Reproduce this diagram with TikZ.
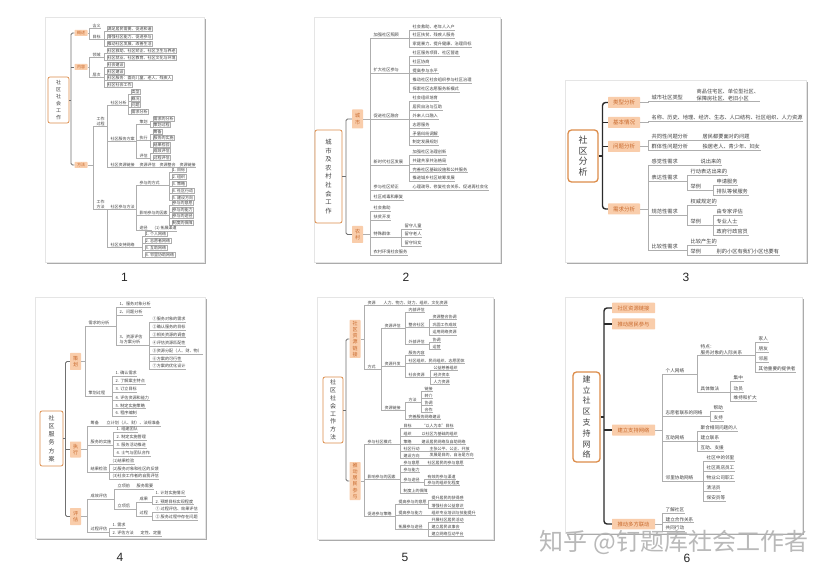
\documentclass[tikz,border=0pt]{standalone}
\usepackage{fontspec}
\setmainfont{Noto Sans CJK SC}
\newfontfamily\capf{Liberation Sans}
\usetikzlibrary{shadows}
\definecolor{obfill}{HTML}{F9CDAB}
\definecolor{obtext}{HTML}{C8682B}
\definecolor{rootline}{HTML}{DC8D4B}
\definecolor{ln}{HTML}{AEAEAE}
\definecolor{txt}{HTML}{404040}
\definecolor{spg}{HTML}{707070}
\definecolor{spk}{HTML}{2B2B2B}
\newcommand\fsz[1]{\fontsize{#1}{#1}\selectfont}
\def\lfs{4}\def\lfb{5}
\newcommand\Lf[5][]{\node[leaf,#1] (#2) at (#3,#4) {#5};\draw[ul] (#2.south west) -- (#2.south east);}
\newcommand\Cn[2]{\foreach \kid in {#2}{\draw[conn] (\kid.south west) -- ++(-2.5,0) |- (#1.south east);}}
\newcommand\Cb[2]{\foreach \kid in {#2}{\draw[conn] (\kid.south west) -- ++(-2.5,0) |- (#1.east);}}
\tikzset{
  leaf/.style={anchor=west, font=\fontsize{\lfs}{\lfb}\selectfont, text=txt, inner xsep=0.5pt, inner ysep=0.6pt, align=left},
  bx/.style={draw=ln, line width=0.3pt},
  ul/.style={draw=ln, line width=0.35pt},
  conn/.style={draw=ln, line width=0.35pt},
  obox/.style={fill=obfill, text=obtext, inner sep=0.8pt, rounded corners=0.6pt, align=center},
  rootbox/.style={draw=rootline, fill=white, line width=0.8pt, rounded corners=2pt, text=txt, align=center, inner sep=1pt},
  card/.style={fill=white, draw=black!10, line width=0.3pt, drop shadow={shadow xshift=1.6pt, shadow yshift=-1.6pt, opacity=0.55, fill=black!60}},
  sgl/.style={draw=spg, line width=0.9pt},
  skl/.style={draw=spk, line width=1.4pt},
  capt/.style={font=\capf\fontsize{12}{12}\selectfont, text=black!85},
  wm/.style={font=\fontsize{24}{24}\selectfont},
}
\begin{document}
\begin{tikzpicture}[x=1pt,y=-1pt]
\useasboundingbox (0,0) rectangle (833,577);
\fill[white] (0,0) rectangle (833,577);

% ================= Panel 1 =================
\def\lfs{4}\def\lfb{5}
\draw[card] (45,17) rectangle (204,262);
\node[rootbox, line width=0.7pt, minimum width=21pt, minimum height=46pt, font=\fontsize{5}{7}\selectfont] (r1) at (58.5,100) {社\\区\\社\\会\\工\\作};
\node[obox, font=\fsz{4}, minimum width=13pt, minimum height=6pt] (a1) at (81,33) {概述};
\node[obox, font=\fsz{4}, minimum width=13pt, minimum height=6pt] (b1) at (81,67) {内容};
\node[obox, font=\fsz{4}, minimum width=13pt, minimum height=6pt] (c1) at (81,165) {方法};
\coordinate (s1) at (71,100);
\draw[sgl] (r1.east) -- (s1);
\draw[sgl, rounded corners=1.5pt] (a1.west) -| (s1) |- (c1.west);
\draw[sgl] (s1 |- b1.west) -- (b1.west);
\Lf{a11}{92}{26}{含义}
\Lf{a12}{92}{37}{目标}
\Cb{a1}{a11,a12}
\Lf[bx]{a121}{107}{29}{满足居民需要、促进和谐}
\Lf[bx]{a122}{107}{36.5}{增强社区能力、促进参与}
\Lf[bx]{a123}{107}{44}{推动社区发展、改善生活}
\Cn{a12}{a121,a122,a123}
\Lf{b11}{92}{55}{领域}
\Lf{b12}{92}{75}{层次}
\Cb{b1}{b11,b12}
\Lf[bx]{b111}{107}{51}{社区救助、社区矫正、社区卫生与养老}
\Lf[bx]{b112}{107}{58}{社区就业、社区教育、社区文化与环境}
\Cn{b11}{b111,b112}
\Lf[bx]{b121}{107}{65}{社会建设}
\Lf[bx]{b122}{107}{71.5}{社区建设}
\Lf[bx]{b123}{107}{78}{社区服务：面向儿童、老人、残疾人}
\Lf[bx]{b124}{107}{84.5}{社区社会工作}
\Cn{b12}{b121,b122,b123,b124}
\Lf{c11}{96}{121}{工作\\过程}
\Lf{c12}{96}{204}{工作\\方法}
\Cb{c1}{c11,c12}
\Lf{c111}{110}{103}{社区分析}
\Lf{c112}{110}{139}{社区服务方案}
\Lf{c113}{110}{165}{社区资源链接}
\Cn{c11}{c111,c112,c113}
\Lf[bx]{c1111}{131}{92}{类型}
\Lf[bx]{c1112}{131}{98.5}{概况}
\Lf[bx]{c1113}{131}{105}{问题}
\Lf[bx]{c1114}{131}{111.5}{需求分析}
\Cn{c111}{c1111,c1112,c1113,c1114}
\Lf{c1121}{139}{122}{策划}
\Lf{c1122}{139}{138}{执行}
\Lf{c1123}{139}{156}{评估}
\Cn{c112}{c1121,c1122,c1123}
\Lf[bx]{p11}{153}{118.5}{需求的分析}
\Lf[bx]{p12}{153}{125}{策划过程}
\Cn{c1121}{p11,p12}
\Lf[bx]{p13}{153}{131.5}{筹备}
\Lf[bx]{p14}{153}{138}{服务的实施}
\Lf[bx]{p15}{153}{144.5}{结果检验}
\Cn{c1122}{p13,p14,p15}
\Lf[bx]{p16}{153}{151}{成效评估}
\Lf[bx]{p17}{153}{157.5}{过程评估}
\Cn{c1123}{p16,p17}
\Lf{p18}{139}{165}{资源评估}
\Lf{p19}{159}{165}{资源整合}
\Lf{p20}{179}{165}{资源链接}
\Cn{c113}{p18}\Cn{p18}{p19}\Cn{p19}{p20}
\Lf{c121}{110}{207}{社区参与方法}
\Lf{c122}{110}{245}{社区支持网络}
\Cn{c12}{c121,c122}
\Lf{c1211}{139}{183}{参与的方式}
\Lf{c1212}{139}{213}{影响参与的因素}
\Lf{c1213}{139}{228}{途径}
\Cn{c121}{c1211,c1212,c1213}
\Lf[bx]{d1}{172}{170}{1. 目标}
\Lf[bx]{d2}{172}{177}{2. 组织}
\Lf[bx]{d3}{172}{184}{3. 策略}
\Lf[bx]{d4}{172}{191}{4. 社区行动}
\Lf[bx]{d5}{172}{198}{5. 建设方向}
\Cn{c1211}{d1,d2,d3,d4,d5}
\Lf[bx]{d6}{172}{203}{参与的意愿}
\Lf[bx]{d7}{172}{209.5}{参与的能力}
\Lf[bx]{d8}{172}{216}{参与的途径}
\Lf[bx]{d9}{172}{222.5}{制度的保障}
\Cn{c1212}{d6,d7,d8,d9}
\Lf{d10}{154}{228}{(1) 拓展渠道}
\Cn{c1213}{d10}
\Lf[bx]{d11}{145}{234}{1. 个人网络}
\Lf[bx]{d12}{145}{241}{2. 志愿者网络}
\Lf[bx]{d13}{145}{248}{3. 互助网络}
\Lf[bx]{d14}{145}{255}{4. 邻里协助网络}
\Cn{c122}{d11,d12,d13,d14}

% ================= Panel 2 =================
\def\lfs{4.2}\def\lfb{5.2}
\draw[card] (314,17) rectangle (500,262);
\node[rootbox, minimum width=27pt, minimum height=93pt, font=\fontsize{6.3}{8.6}\selectfont] (r2) at (328.5,176.5) {城\\市\\及\\农\\村\\社\\会\\工\\作};
\node[obox, font=\fontsize{5}{6.5}\selectfont, minimum width=11pt, minimum height=19pt] (b21) at (357.5,119) {城\\市};
\node[obox, font=\fontsize{5}{6.5}\selectfont, minimum width=11pt, minimum height=17pt] (b22) at (357.5,234.5) {农\\村};
\coordinate (s2) at (346,176.5);
\draw[sgl] (r2.east) -- (s2);
\draw[sgl, rounded corners=1.5pt] (b21.west) -| (s2) |- (b22.west);
\Lf{u1}{373}{35}{加强社区照顾}
\Lf{u2}{373}{70}{扩大社区参与}
\Lf{u3}{373}{116}{促进社区融合}
\Lf{u4}{373}{162}{新时代社区发展}
\Lf{u5}{373}{187}{参与社区矫正}
\Lf{u6}{373}{197}{社区戒毒和康复}
\Cb{b21}{u1,u2,u3,u4,u5,u6}
\Lf{u11}{412}{27}{社会救助、老年人入户}
\Lf{u12}{412}{35}{社区扶贫、残疾人服务}
\Lf{u13}{412}{44}{家庭暴力、提升健康、治理目标}
\Cn{u1}{u11,u12,u13}
\Lf{u21}{412}{53}{社区服务项目、社区营造}
\Lf{u22}{412}{62}{社区协商}
\Lf{u23}{412}{70.5}{提高参与水平}
\Lf{u24}{412}{80}{推动社区社会组织参与社区治理}
\Lf{u25}{412}{89}{探索社区志愿服务新模式}
\Cn{u2}{u21,u22,u23,u24,u25}
\Lf{u31}{412}{98}{社会组织培育}
\Lf{u32}{412}{107}{居民自治与互助}
\Lf{u33}{412}{116}{外来人口融入}
\Lf{u34}{412}{125}{志愿服务}
\Lf{u35}{412}{133.5}{矛盾纠纷调解}
\Lf{u36}{412}{142}{制定发展规划}
\Cn{u3}{u31,u32,u33,u34,u35,u36}
\Lf{u41}{412}{152}{加强社区治理创新}
\Lf{u42}{412}{161}{共建共享共治格局}
\Lf{u43}{412}{169.5}{完善社区基础设施和公共服务}
\Lf{u44}{412}{178}{推进城乡社区统筹发展}
\Cn{u4}{u41,u42,u43,u44}
\Lf{u51}{412}{187}{心理疏导、修复社会关系、促进再社会化}
\Cn{u5}{u51}
\Lf{v1}{373}{208}{社会救助}
\Lf{v2}{373}{217}{扶贫开发}
\Lf{v3}{373}{234}{特殊群体}
\Lf{v4}{373}{252}{农村环境社会服务}
\Cb{b22}{v1,v2,v3,v4}
\Lf{v31}{404}{226}{留守儿童}
\Lf{v32}{404}{234}{留守老人}
\Lf{v33}{404}{243}{留守妇女}
\Cn{v3}{v31,v32,v33}

% ================= Panel 3 =================
\def\lfs{5.2}\def\lfb{6.6}
\draw[card] (565,80) rectangle (806,262);
\node[rootbox, line width=1.3pt, rounded corners=3.5pt, minimum width=30pt, minimum height=52pt, font=\fontsize{9}{10.8}\selectfont] (r3) at (583,156) {社\\区\\分\\析};
\node[obox, font=\fsz{5.5}, minimum width=32pt, minimum height=11pt] (t1) at (624,102.5) {类型分析};
\node[obox, font=\fsz{5.5}, minimum width=32pt, minimum height=11pt] (t2) at (624,122.5) {基本情况};
\node[obox, font=\fsz{5.5}, minimum width=32pt, minimum height=11pt] (t3) at (624,146.5) {问题分析};
\node[obox, font=\fsz{5.5}, minimum width=32pt, minimum height=11pt] (t4) at (624,209) {需求分析};
\coordinate (s3) at (602.5,156);
\draw[skl] (r3.east) -- (s3);
\draw[skl, rounded corners=3pt] (t1.west) -| (s3) |- (t4.west);
\draw[skl] (s3 |- t2.west) -- (t2.west);
\draw[skl] (s3 |- t3.west) -- (t3.west);
\Lf{t11}{651}{98}{城市社区类型}
\Cb{t1}{t11}
\Lf{t12}{696}{95}{商品住宅区、单位型社区、\\保障房社区、老旧小区}
\Cn{t11}{t12}
\Lf{t21}{651}{118}{名称、历史、地理、经济、生态、人口结构、社区组织、人力资源}
\Cb{t2}{t21}
\Lf{t31}{651}{137}{共同性问题分析}
\Lf{t32}{651}{147}{群体性问题分析}
\Cb{t3}{t31,t32}
\Lf{t311}{702}{137}{居民都要面对的问题}
\Lf{t321}{702}{147}{独居老人、青少年、妇女}
\Cn{t31}{t311}\Cn{t32}{t321}
\Lf{t41}{651}{162}{感觉性需求}
\Lf{t42}{651}{178}{表达性需求}
\Lf{t43}{651}{212}{规范性需求}
\Lf{t44}{651}{247}{比较性需求}
\Cb{t4}{t41,t42,t43,t44}
\Lf{t411}{700}{162}{说出来的}
\Cn{t41}{t411}
\Lf{t421}{690}{172}{行动表达出来的}
\Lf{t422}{690}{187}{举例}
\Cn{t42}{t421,t422}
\Lf{t4221}{716}{182}{申请服务}
\Lf{t4222}{716}{192}{排队等候服务}
\Cn{t422}{t4221,t4222}
\Lf{t431}{690}{202}{权威规定的}
\Lf{t432}{690}{222}{举例}
\Cn{t43}{t431,t432}
\Lf{t4321}{716}{212}{由专家评估}
\Lf{t4322}{716}{222}{专业人士}
\Lf{t4323}{716}{232}{政府行政官员}
\Cn{t432}{t4321,t4322,t4323}
\Lf{t441}{690}{242}{比较产生的}
\Lf{t442}{690}{252}{举例}
\Cn{t44}{t441,t442}
\Lf{t4421}{716}{252}{别的小区有我们小区也要有}
\Cn{t442}{t4421}

% ================= Panel 4 =================
\def\lfs{4.1}\def\lfb{5}
\draw[card] (35,297) rectangle (205,538);
\node[rootbox, minimum width=23pt, minimum height=55pt, font=\fontsize{6}{8.3}\selectfont] (r4) at (51.5,438.5) {社\\区\\服\\务\\方\\案};
\node[obox, font=\fontsize{5}{6.5}\selectfont, minimum width=11pt, minimum height=17pt] (pa) at (75.5,361.5) {策\\划};
\node[obox, font=\fontsize{5}{6.5}\selectfont, minimum width=11pt, minimum height=16pt] (pb) at (75.5,449.5) {执\\行};
\node[obox, font=\fontsize{5}{6.5}\selectfont, minimum width=11pt, minimum height=17pt] (pc) at (75.5,516.5) {评\\估};
\coordinate (s4) at (65.5,438.5);
\draw[sgl] (r4.east) -- (s4);
\draw[sgl, rounded corners=1.5pt] (pa.west) -| (s4) |- (pc.west);
\draw[sgl] (s4 |- pb.west) -- (pb.west);
\Lf{q1}{88}{323}{需求的分析}
\Lf{q2}{88}{393}{策划过程}
\Cb{pa}{q1,q2}
\Lf{q11}{119}{304}{1、服务对象分析}
\Lf{q12}{119}{312}{2、问题分析}
\Lf{q13}{119}{339.5}{3、资源评估\\与方案分析}
\Cn{q1}{q11,q12,q13}
\Lf{q131}{152}{319}{①服务对象的需求}
\Lf{q132}{152}{327}{②确认服务的目标}
\Lf{q133}{152}{334.5}{③相关资源的调查}
\Lf{q134}{152}{343}{④评估资源匹配性}
\Lf{q135}{152}{351}{⑤资源分配（人、财、物）}
\Lf{q136}{152}{358.5}{⑥方案的可行性}
\Lf{q137}{152}{366}{⑦方案的优化设计}
\Cn{q13}{q131,q132,q133,q134,q135,q136,q137}
\Lf{q21}{115}{373}{1. 确认需求}
\Lf{q22}{115}{381}{2. 了解案主特点}
\Lf{q23}{115}{389}{3. 订立目标}
\Lf{q24}{115}{397.5}{4. 评估资源和能力}
\Lf{q25}{115}{405.5}{5. 制定实施策略}
\Lf{q26}{115}{413}{6. 程序编制}
\Cn{q2}{q21,q22,q23,q24,q25,q26}
\Lf{q3}{90}{423}{筹备}
\Lf{q4}{90}{442}{服务的实施}
\Lf{q5}{90}{469}{结果检验}
\Cb{pb}{q3,q4,q5}
\Lf{q31}{106}{423}{立计划（人、财）、法规准备}
\Cn{q3}{q31}
\Lf{q41}{116}{429}{1. 组建团队}
\Lf{q42}{116}{437}{2. 制定实施管理}
\Lf{q43}{116}{445}{3. 服务活动推进}
\Lf{q44}{116}{453}{4. 士气与团队合作}
\Cn{q4}{q41,q42,q43,q44}
\Lf{q51}{112}{461.5}{(1)结果检验}
\Lf{q52}{112}{469}{(2)服务对象和社区的反馈}
\Lf{q53}{112}{476.5}{(3)社会工作者的自我评估}
\Cn{q5}{q51,q52,q53}
\Lf{q6}{90}{496}{成效评估}
\Lf{q7}{90}{529}{过程评估}
\Cb{pc}{q6,q7}
\Lf{q61}{117}{486}{立项前}
\Lf{q62}{117}{506}{立项后}
\Cn{q6}{q61,q62}
\Lf{q611}{136}{486}{服务需要}
\Cn{q61}{q611}
\Lf{q621}{139}{499}{成果}
\Lf{q622}{139}{513}{过程}
\Cn{q62}{q621,q622}
\Lf{q6211}{155}{493}{1. 计划实施情况}
\Lf{q6212}{155}{501.5}{2. 预期目标实现程度}
\Cn{q621}{q6211,q6212}
\Lf{q6221}{155}{509}{① 过程评估、效果评估}
\Lf{q6222}{155}{517}{② 服务过程中存在问题}
\Cn{q622}{q6221,q6222}
\Lf{q71}{112}{525}{1. 需求}
\Lf{q72}{112}{533}{2. 评估方法}
\Cn{q7}{q71,q72}
\Lf{q721}{140}{533}{定性、定量}
\Cn{q72}{q721}

% ================= Panel 5 =================
\def\lfs{4}\def\lfb{5}
\draw[card] (317,297) rectangle (493,539);
\node[rootbox, minimum width=20pt, minimum height=66pt, font=\fontsize{6}{7.8}\selectfont] (r5) at (333,410) {社\\区\\社\\会\\工\\作\\方\\法};
\node[obox, font=\fontsize{5}{6.1}\selectfont, minimum width=11pt, minimum height=38pt] (w1) at (355,339) {社\\区\\资\\源\\链\\接};
\node[obox, font=\fontsize{5}{6.1}\selectfont, minimum width=11pt, minimum height=38pt] (w2) at (355,481) {推\\动\\居\\民\\参\\与};
\coordinate (s5) at (346,410);
\draw[sgl] (r5.east) -- (s5);
\draw[sgl, rounded corners=1.5pt] (w1.west) -| (s5) |- (w2.west);
\Lf{x1}{367}{303}{资源}
\Lf{x2}{367}{367}{方式}
\Cb{w1}{x1,x2}
\Lf{x11}{383}{303}{人力、物力、财力、组织、文化资源}
\Cn{x1}{x11}
\Lf{y1}{384}{326}{资源评估}
\Lf{y2}{384}{364}{资源开发}
\Lf{y3}{384}{408}{资源链接}
\Cn{x2}{y1,y2,y3}
\Lf{y11}{408}{310}{内部评估}
\Lf{y12}{408}{324.5}{整合社区}
\Lf{y13}{408}{342}{外部评估}
\Cn{y1}{y11,y12,y13}
\Lf{y121}{432}{317}{资源整合协调}
\Lf{y122}{432}{324.5}{巩固工作成效}
\Lf{y123}{432}{332}{运用网络资源}
\Cn{y12}{y121,y122,y123}
\Lf{y131}{432}{339.5}{协调}
\Lf{y132}{432}{347}{运营}
\Cn{y13}{y131,y132}
\Lf{y21}{408}{353}{服务内容}
\Lf{y22}{408}{361}{社区组织、民间组织、志愿团体}
\Lf{y23}{408}{375}{社会资源}
\Cn{y2}{y21,y22,y23}
\Lf{y231}{433}{368}{公益慈善组织}
\Lf{y232}{433}{375}{经济资本}
\Lf{y233}{433}{382}{人力资源}
\Cn{y23}{y231,y232,y233}
\Lf{y31}{408}{400}{方法}
\Lf{y32}{408}{417}{完善服务网络建设}
\Cn{y3}{y31,y32}
\Lf{y311}{424}{389}{链接}
\Lf{y312}{424}{396}{转介}
\Lf{y313}{424}{403}{协调}
\Lf{y314}{424}{410}{合作}
\Cn{y31}{y311,y312,y313,y314}
\Lf{z1}{367}{442}{参与社区模式}
\Lf{z2}{367}{477}{影响参与的因素}
\Lf{z3}{367}{514}{促进参与策略}
\Cb{w2}{z1,z2,z3}
\Lf{z11}{403}{426}{目标}
\Lf{z12}{403}{434}{组织}
\Lf{z13}{403}{441.5}{策略}
\Lf{z14}{403}{448.5}{社区行动}
\Lf{z15}{403}{455.5}{建设方向}
\Cn{z1}{z11,z12,z13,z14,z15}
\Lf{z111}{421}{426}{“以人为本”目标}
\Lf{z121}{421}{434}{以社区为基础的组织}
\Lf{z131}{421}{441.5}{建设居民网络及自助网络}
\Lf{z141}{429}{448.5}{主张公平、公正、开放}
\Lf{z151}{429}{455.5}{发展是目的，自治是方向}
\Cn{z11}{z111}\Cn{z12}{z121}\Cn{z13}{z131}\Cn{z14}{z141}\Cn{z15}{z151}
\Lf{z21}{403}{463}{参与意愿}
\Lf{z22}{403}{469.5}{参与能力}
\Lf{z23}{403}{480}{参与途径}
\Lf{z24}{403}{491}{制度上的保障}
\Cn{z2}{z21,z22,z23,z24}
\Lf{z211}{427}{463}{社区居民的参与意愿}
\Cn{z21}{z211}
\Lf{z231}{427}{476.5}{有效的参与渠道}
\Lf{z232}{427}{483}{参与的组织化程度}
\Cn{z23}{z231,z232}
\Lf{z31}{398}{502}{提高参与的意愿}
\Lf{z32}{398}{512.5}{提高参与能力}
\Lf{z33}{398}{527}{拓展参与途径}
\Cn{z3}{z31,z32,z33}
\Lf{z311}{431}{498}{提升居民的获得感}
\Lf{z312}{431}{505.5}{增强社会公益意识}
\Cn{z31}{z311,z312}
\Lf{z321}{431}{512.5}{组织专业培训与技能提升}
\Cn{z32}{z321}
\Lf{z331}{431}{520}{开展社区居民活动}
\Lf{z332}{431}{527}{建立居民议事会}
\Lf{z333}{431}{534}{建立网络互动平台}
\Cn{z33}{z331,z332,z333}

% ================= Panel 6 =================
\def\lfs{4.6}\def\lfb{5.8}
\draw[card] (565,297) rectangle (802,533);
\node[rootbox, line width=1.3pt, rounded corners=3.5pt, minimum width=27pt, minimum height=90pt, font=\fontsize{8}{10.8}\selectfont] (r6) at (586.5,417) {建\\立\\社\\区\\支\\持\\网\\络};
\node[obox, font=\fsz{5.3}, minimum width=43pt, minimum height=10.5pt] (m1) at (633.5,308) {社区资源链接};
\node[obox, font=\fsz{5.3}, minimum width=43pt, minimum height=11pt] (m2) at (633.5,324) {推动居民参与};
\node[obox, font=\fsz{5.3}, minimum width=43pt, minimum height=11pt] (m3) at (633.5,430) {建立支持网络};
\node[obox, font=\fsz{5.3}, minimum width=43pt, minimum height=10.5pt] (m4) at (633.5,524) {推动多方联动};
\coordinate (s6) at (604,417);
\draw[skl] (r6.east) -- (s6);
\draw[skl, rounded corners=3pt] (m1.west) -| (s6) |- (m4.west);
\draw[skl] (s6 |- m2.west) -- (m2.west);
\draw[skl] (s6 |- m3.west) -- (m3.west);
\Lf{n1}{665}{371}{个人网络}
\Lf{n2}{665}{413}{志愿者联系的网络}
\Lf{n3}{665}{438}{互助网络}
\Lf{n4}{665}{478}{邻里协助网络}
\Cb{m3}{n1,n2,n3,n4}
\Lf{n11}{700}{349.5}{特点：\\服务对象的人际关系}
\Lf{n12}{700}{389}{具体做法}
\Cn{n1}{n11,n12}
\Lf{n111}{758}{339}{家人}
\Lf{n112}{758}{349}{朋友}
\Lf{n113}{758}{359}{邻居}
\Lf{n114}{758}{369}{其他重要的提供者}
\Cn{n11}{n111,n112,n113,n114}
\Lf{n121}{733}{378}{集中}
\Lf{n122}{733}{389}{动员}
\Lf{n123}{733}{398}{维持和扩大}
\Cn{n12}{n121,n122,n123}
\Lf{n21}{713}{408}{帮助}
\Lf{n22}{713}{418}{支持}
\Cn{n2}{n21,n22}
\Lf{n31}{700}{428}{聚合相同问题的人}
\Lf{n32}{700}{438}{建立联系}
\Lf{n33}{700}{448}{互助、支援}
\Cn{n3}{n31,n32,n33}
\Lf{n41}{706}{458}{社区中的邻里}
\Lf{n42}{706}{468}{社区商店员工}
\Lf{n43}{706}{478}{物业公司职工}
\Lf{n44}{706}{488}{清洁员}
\Lf{n45}{706}{498}{保安员等}
\Cn{n4}{n41,n42,n43,n44,n45}
\Lf{o1}{665}{510}{了解社区}
\Lf{o2}{665}{519.5}{建立合作关系}
\Lf{o3}{665}{528}{共同行动}
\Cb{m4}{o1,o2,o3}

% ================= Captions =================
\node[capt] (cap1) at (124.5,277) {1};
\node[capt] (cap2) at (406,277) {2};
\node[capt] (cap3) at (686,277) {3};
\node[capt] (cap4) at (120,557) {4};
\node[capt] (cap5) at (405,557) {5};
\node[capt] (cap6) at (687,558) {6};

% ================= Watermark =================
\node[wm, text=black!30, opacity=0.9] (wmk) at (674,542) {知乎 @钉题库社会工作者};
\end{tikzpicture}
\end{document}
